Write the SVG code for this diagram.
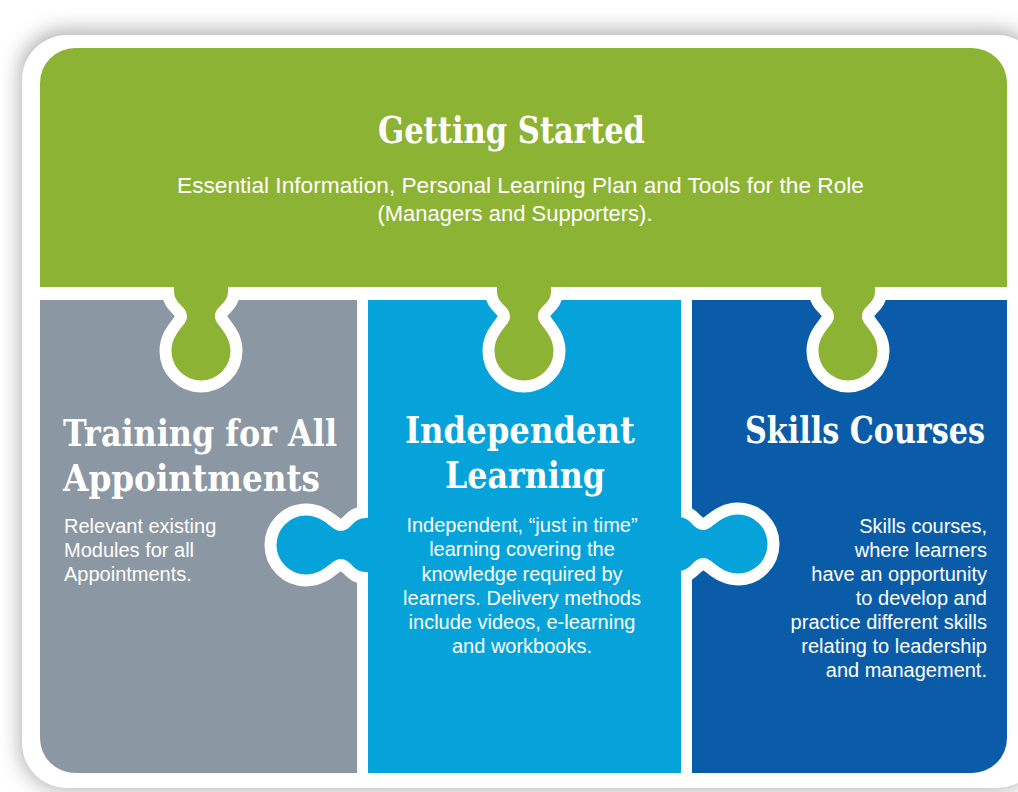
<svg xmlns="http://www.w3.org/2000/svg" xmlns:xlink="http://www.w3.org/1999/xlink" width="1018" height="792" viewBox="0 0 1018 792">
  <defs>
    <filter id="shadow" x="-10%" y="-10%" width="120%" height="120%">
      <feGaussianBlur stdDeviation="10"/>
    </filter>
    <path id="tab" d="M -27,-12 L -27,2 C -27,16 -14,16 -14,28 C -14,36 -29.5,44 -29.5,62 A 29.5 29.5 0 0 0 29.5,62 C 29.5,44 14,36 14,28 C 14,16 27,16 27,2 L 27,-12 Z"/>
    <style>
      .knob { stroke: #ffffff; stroke-width: 24; paint-order: stroke; stroke-linejoin: round; }
      .head { font-family: "DejaVu Serif", "Liberation Serif", serif; font-weight: bold; font-size: 37px; font-stretch: condensed; fill: #ffffff; }
      .body { font-family: "Liberation Sans", Arial, sans-serif; font-size: 20px; fill: #ffffff; }
      .top { font-family: "Liberation Sans", Arial, sans-serif; font-size: 22px; fill: #ffffff; }
      .green { fill: #8db334; }
      .gray { fill: #8b97a2; }
      .lblue { fill: #05a3da; }
      .dblue { fill: #0b5ca8; }
    </style>
  </defs>

  <rect x="0" y="0" width="1018" height="792" fill="#ffffff"/>
  <rect x="20" y="30" width="1020" height="760" rx="45" fill="#b0b0b0" filter="url(#shadow)"/>
  <rect x="22" y="35" width="1020" height="753" rx="45" fill="#ffffff"/>

  <g id="training">
    <path class="gray" d="M40,300 H357 V773 H75 A35,35 0 0 1 40,738 Z"/>
    <text class="head" x="63" y="446" textLength="274" lengthAdjust="spacingAndGlyphs">Training for All</text>
    <text class="head" x="63" y="491" textLength="257" lengthAdjust="spacingAndGlyphs">Appointments</text>
    <text class="body" x="64" y="533">Relevant existing</text>
    <text class="body" x="64" y="557">Modules for all</text>
    <text class="body" x="64" y="581">Appointments.</text>
  </g>

  <g id="skills">
    <path class="dblue" d="M692,300 H1007 V738 A35,35 0 0 1 972,773 H692 Z"/>
    <text class="head" x="985" y="443" text-anchor="end" textLength="240" lengthAdjust="spacingAndGlyphs">Skills Courses</text>
    <g text-anchor="end">
      <text class="body" x="987" y="533">Skills courses,</text>
      <text class="body" x="987" y="557">where learners</text>
      <text class="body" x="987" y="581">have an opportunity</text>
      <text class="body" x="987" y="605">to develop and</text>
      <text class="body" x="987" y="629">practice different skills</text>
      <text class="body" x="987" y="653">relating to leadership</text>
      <text class="body" x="987" y="677">and management.</text>
    </g>
  </g>

  <g id="independent">
    <use xlink:href="#tab" class="knob lblue" transform="translate(368,545) rotate(90)"/>
    <use xlink:href="#tab" class="knob lblue" transform="translate(676,544) rotate(-90)"/>
    <rect class="lblue" x="368" y="300" width="313" height="473"/>
    <text class="head" x="405" y="443" textLength="230" lengthAdjust="spacingAndGlyphs">Independent</text>
    <text class="head" x="445" y="488" textLength="160" lengthAdjust="spacingAndGlyphs">Learning</text>
    <g text-anchor="middle">
      <text class="body" x="522" y="532">Independent, “just in time”</text>
      <text class="body" x="522" y="556">learning covering the</text>
      <text class="body" x="522" y="581">knowledge required by</text>
      <text class="body" x="522" y="605">learners. Delivery methods</text>
      <text class="body" x="522" y="629">include videos, e-learning</text>
      <text class="body" x="522" y="653">and workbooks.</text>
    </g>
  </g>

  <g id="getting-started">
    <use xlink:href="#tab" class="knob green" transform="translate(201,289)"/>
    <use xlink:href="#tab" class="knob green" transform="translate(524,289)"/>
    <use xlink:href="#tab" class="knob green" transform="translate(848,289)"/>
    <path class="green" d="M40,287 V83 A35,35 0 0 1 75,48 H972 A35,35 0 0 1 1007,83 V287 Z"/>
    <text class="head" x="378" y="143" textLength="267" lengthAdjust="spacingAndGlyphs">Getting Started</text>
    <text class="top" x="177" y="193" textLength="687" lengthAdjust="spacingAndGlyphs">Essential Information, Personal Learning Plan and Tools for the Role</text>
    <text class="top" x="515" y="221" text-anchor="middle">(Managers and Supporters).</text>
  </g>
</svg>
